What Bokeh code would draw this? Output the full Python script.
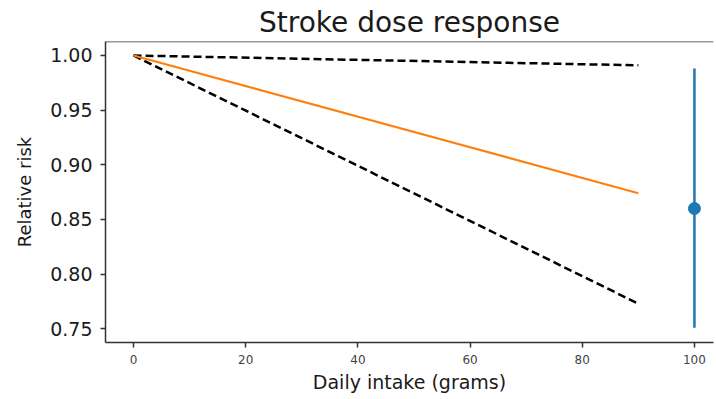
from bokeh.plotting import figure
from bokeh.models import Range1d, FixedTicker, PrintfTickFormatter, Span, ColumnDataSource
from bokeh.embed import file_html
from bokeh.resources import INLINE

# Data
dose_x = [0, 90]
rr_mean = [1.00, 0.874]
rr_upper = [1.00, 0.991]
rr_lower = [1.00, 0.773]

study_x = [100]
study_rr = [0.860]
study_lo = [0.751]
study_hi = [0.988]

x_ticks = [0, 20, 40, 60, 80, 100]
y_ticks = [0.75, 0.80, 0.85, 0.90, 0.95, 1.00]

x_start, x_end = -5, 103.4
y_start, y_end = 0.7375, 1.0128

FONT = "DejaVu Sans"

p = figure(width=714, height=395, output_backend="svg", toolbar_location=None,
           x_range=Range1d(x_start, x_end), y_range=Range1d(y_start, y_end),
           min_border_left=105, min_border_right=1, min_border_bottom=50, min_border_top=10)

p.title.text = "Stroke dose response"
p.title.align = "center"
p.title.text_font = FONT
p.title.text_font_size = "28px"
p.title.text_font_style = "normal"
p.title.text_color = "#1a1a1a"
p.title.standoff = 6

p.grid.visible = False
p.outline_line_color = None
p.background_fill_color = "white"
p.border_fill_color = "white"

# top spine
p.add_layout(Span(location=y_end, dimension="width", line_color="#333333", line_width=1.5))

for ax in (p.xaxis[0], p.yaxis[0]):
    ax.axis_line_color = "#333333"
    ax.axis_line_width = 1.5
    ax.major_tick_line_color = "#333333"
    ax.major_tick_line_width = 1.5
    ax.major_tick_out = 5
    ax.major_tick_in = 0
    ax.minor_tick_line_color = None
    ax.major_label_text_font = FONT
    ax.axis_label_text_font = FONT
    ax.axis_label_text_font_style = "normal"
    ax.axis_label_text_color = "#1a1a1a"

p.xaxis.axis_label_text_font_size = "19px"
p.yaxis.axis_label_text_font_size = "18px"
p.xaxis.ticker = FixedTicker(ticks=x_ticks)
p.yaxis.ticker = FixedTicker(ticks=y_ticks)
p.yaxis.formatter = PrintfTickFormatter(format="%.2f")
p.xaxis.major_label_text_font_size = "12px"
p.xaxis.major_label_text_color = "#444444"
p.yaxis.major_label_text_font_size = "19px"
p.yaxis.major_label_text_color = "#1a1a1a"
p.xaxis.major_label_standoff = 7
p.yaxis.major_label_standoff = 8
p.xaxis.axis_label = "Daily intake (grams)"
p.yaxis.axis_label = "Relative risk"
p.xaxis.axis_label_standoff = 4
p.yaxis.axis_label_standoff = 12

p.line(dose_x, rr_upper, line_color="black", line_width=2.5, line_dash="8 4")
p.line(dose_x, rr_lower, line_color="black", line_width=2.5, line_dash="8 4")
p.line(dose_x, rr_mean, line_color="#ff7f0e", line_width=2.2)

src = ColumnDataSource(dict(x=study_x, y=study_rr, lo=study_lo, hi=study_hi))
p.segment(x0="x", y0="lo", x1="x", y1="hi", source=src, line_color="#1f77b4", line_width=2.5)
p.scatter(x="x", y="y", source=src, size=12, color="#1f77b4")

open("out.html", "w").write(file_html(p, INLINE))
